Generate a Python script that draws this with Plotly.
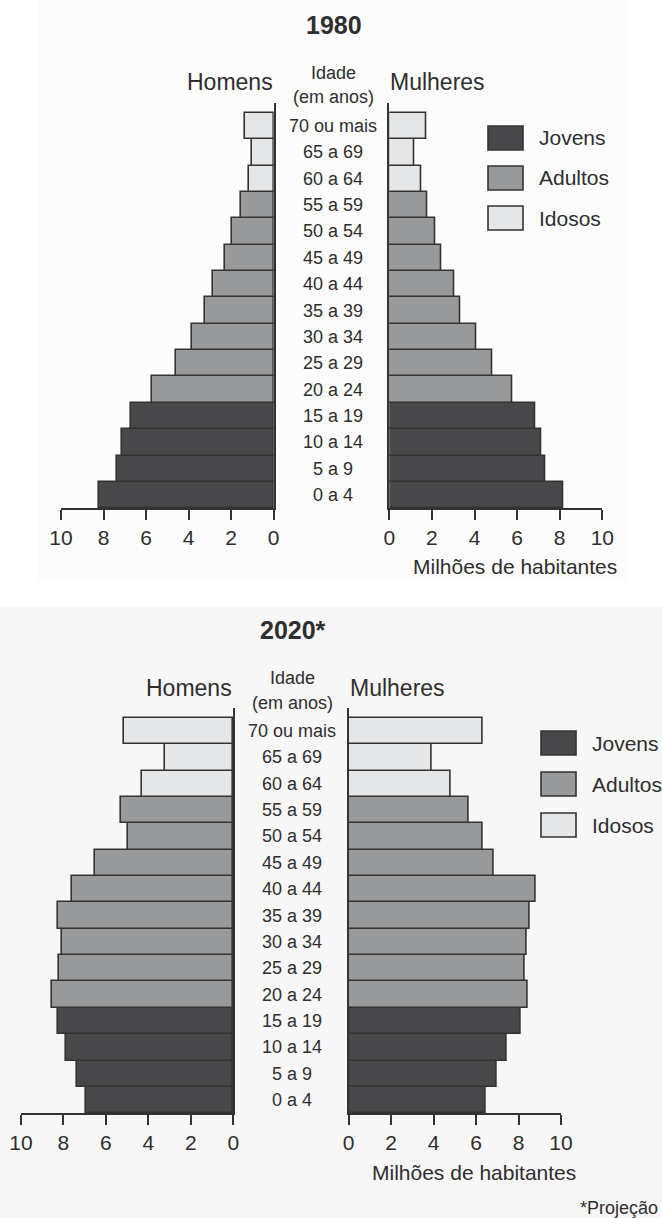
import plotly.graph_objects as go

W, H = 662, 1218

ages = ["0 a 4", "5 a 9", "10 a 14", "15 a 19", "20 a 24", "25 a 29", "30 a 34",
        "35 a 39", "40 a 44", "45 a 49", "50 a 54", "55 a 59", "60 a 64", "65 a 69",
        "70 ou mais"]
groups = ["Jovens"] * 4 + ["Adultos"] * 8 + ["Idosos"] * 3

men_1980 = [8.2, 7.37, 7.12, 6.72, 5.72, 4.59, 3.82, 3.21, 2.85, 2.29, 1.97, 1.52, 1.16, 1.0, 1.33]
women_1980 = [8.18, 7.32, 7.15, 6.84, 5.77, 4.85, 4.08, 3.33, 3.04, 2.43, 2.16, 1.78, 1.52, 1.16, 1.72]
men_2020 = [6.94, 7.36, 7.88, 8.27, 8.52, 8.21, 8.08, 8.27, 7.58, 6.53, 4.95, 5.29, 4.32, 3.23, 5.16]
women_2020 = [6.44, 6.97, 7.44, 8.08, 8.45, 8.30, 8.38, 8.52, 8.82, 6.81, 6.33, 5.65, 4.82, 3.89, 6.33]

legend_labels = ["Jovens", "Adultos", "Idosos"]
colors = {"Jovens": "#48484a", "Adultos": "#98999b", "Idosos": "#e5e6e7"}
x_ticks = [0, 2, 4, 6, 8, 10]

EDGE = "#333333"
FONT = "Liberation Sans, Arial, sans-serif"
NARROW = "Liberation Sans Narrow, Liberation Sans, Arial, sans-serif"
TXT = "#2e2e2e"


def px(x):
    return x / W


def py(y):
    return 1 - y / H


bar_colors = [colors[g] for g in groups]

fig = go.Figure()

panels = [
    (men_1980, women_1980, "x", "x2", "y", "y2"),
    (men_2020, women_2020, "x3", "x4", "y3", "y4"),
]

for men, women, xm, xf, ym, yf in panels:
    fig.add_trace(go.Bar(y=ages, x=men, orientation="h", xaxis=xm, yaxis=ym,
                         marker=dict(color=bar_colors, line=dict(color=EDGE, width=1.6)),
                         showlegend=False, hoverinfo="x+y"))
    fig.add_trace(go.Bar(y=ages, x=women, orientation="h", xaxis=xf, yaxis=yf,
                         marker=dict(color=bar_colors, line=dict(color=EDGE, width=1.6)),
                         showlegend=False, hoverinfo="x+y"))

top = dict(ml=61, mr=273.7, fl=389.3, fr=602.3, axis=508.3, ytop=103, center=333,
           title_y=25, head_y=82, idade_y=73, anos_y=97, mil_x=514.5, mil_y=567,
           leg_x=488, leg_y=[138, 178, 218], title="1980")
bot = dict(ml=21, mr=233.3, fl=348.7, fr=561, axis=1113.3, ytop=708, center=292,
           title_y=630, head_y=688, idade_y=678, anos_y=703, mil_x=474, mil_y=1172,
           leg_x=541, leg_y=[743, 784, 825], title="2020*")

yrange = [-0.5, 14.5 + 0.37]


def xaxis_def(l, r, reversed_, anchor):
    return dict(domain=[px(l), px(r)], range=[10, 0] if reversed_ else [0, 10],
                anchor=anchor, showline=True, linecolor=EDGE, linewidth=1.6,
                ticks="outside", ticklen=10, tickwidth=1.6, tickcolor=EDGE,
                tickvals=x_ticks, ticktext=[str(v) for v in x_ticks],
                tickfont=dict(family=FONT, size=21, color=TXT), automargin=False,
                showgrid=False, zeroline=False, fixedrange=True)


def yaxis_def(p, anchor, side):
    return dict(domain=[py(p["axis"]), py(p["ytop"])], range=yrange, anchor=anchor,
                side=side, type="category", categoryorder="array", categoryarray=ages,
                showline=True, linecolor=EDGE, linewidth=1.6, ticks="", automargin=False,
                showticklabels=False, showgrid=False, zeroline=False, fixedrange=True)


fig.update_layout(
    width=W, height=H, margin=dict(l=0, r=0, t=0, b=0, pad=0), autosize=False,
    paper_bgcolor="white", plot_bgcolor="rgba(0,0,0,0)",
    barmode="overlay", bargap=0, showlegend=False,
    font=dict(family=FONT, color=TXT),
    xaxis=xaxis_def(top["ml"], top["mr"], True, "y"),
    xaxis2=xaxis_def(top["fl"], top["fr"], False, "y2"),
    xaxis3=xaxis_def(bot["ml"], bot["mr"], True, "y3"),
    xaxis4=xaxis_def(bot["fl"], bot["fr"], False, "y4"),
    yaxis=yaxis_def(top, "x", "right"),
    yaxis2=yaxis_def(top, "x2", "left"),
    yaxis3=yaxis_def(bot, "x3", "right"),
    yaxis4=yaxis_def(bot, "x4", "left"),
)

shapes = [
    dict(type="rect", xref="paper", yref="paper", x0=px(38), x1=px(629), y0=py(582), y1=py(0),
         fillcolor="#fcfcfc", line=dict(width=0), layer="below"),
    dict(type="rect", xref="paper", yref="paper", x0=0, x1=1, y0=0, y1=py(607),
         fillcolor="#f7f7f7", line=dict(width=0), layer="below"),
]
annotations = []

for p, yref in [(top, "y"), (bot, "y3")]:
    annotations.append(dict(text="<b>%s</b>" % p["title"], x=px(p["center"] + 1), y=py(p["title_y"]),
                            xref="paper", yref="paper", showarrow=False, xanchor="center",
                            yanchor="middle", font=dict(family=FONT, size=25, color=TXT)))
    annotations.append(dict(text="Homens", x=px(p["mr"] + 1), y=py(p["head_y"]), xref="paper",
                            yref="paper", showarrow=False, xanchor="right", yanchor="middle",
                            font=dict(family=FONT, size=23, color=TXT)))
    annotations.append(dict(text="Mulheres", x=px(p["fl"] - 1), y=py(p["head_y"]), xref="paper",
                            yref="paper", showarrow=False, xanchor="left", yanchor="middle",
                            font=dict(family=FONT, size=23, color=TXT)))
    annotations.append(dict(text="Idade", x=px(p["center"]), y=py(p["idade_y"]), xref="paper",
                            yref="paper", showarrow=False, xanchor="center", yanchor="middle",
                            font=dict(family=NARROW, size=18, color=TXT)))
    annotations.append(dict(text="(em anos)", x=px(p["center"]), y=py(p["anos_y"]), xref="paper",
                            yref="paper", showarrow=False, xanchor="center", yanchor="middle",
                            font=dict(family=NARROW, size=18, color=TXT)))
    for a in ages:
        annotations.append(dict(text=a, x=px(p["center"]), y=a, xref="paper", yref=yref,
                                showarrow=False, xanchor="center", yanchor="middle",
                                font=dict(family=NARROW, size=18, color=TXT)))
    annotations.append(dict(text="Milhões de habitantes", x=px(p["mil_x"]),
                            y=py(p["mil_y"]), xref="paper", yref="paper", showarrow=False,
                            xanchor="center", yanchor="middle",
                            font=dict(family=FONT, size=21, color=TXT)))
    for lab, ly in zip(legend_labels, p["leg_y"]):
        shapes.append(dict(type="rect", xref="paper", yref="paper", x0=px(p["leg_x"]),
                           x1=px(p["leg_x"] + 35), y0=py(ly + 12), y1=py(ly - 12),
                           fillcolor=colors[lab], line=dict(color=EDGE, width=1.6)))
        annotations.append(dict(text=lab, x=px(p["leg_x"] + 49), y=py(ly), xref="paper",
                                yref="paper", showarrow=False, xanchor="left", yanchor="middle",
                                font=dict(family=FONT, size=21, color=TXT)))

annotations.append(dict(text="*Projeção", x=px(660), y=py(1208), xref="paper", yref="paper",
                        showarrow=False, xanchor="right", yanchor="middle",
                        font=dict(family=FONT, size=18, color=TXT)))

fig.update_layout(shapes=shapes, annotations=annotations)
fig.write_html(
    "out.html",
    config={"displayModeBar": False},
    post_script="document.body.style.margin='0';document.body.style.overflow='hidden';",
)
